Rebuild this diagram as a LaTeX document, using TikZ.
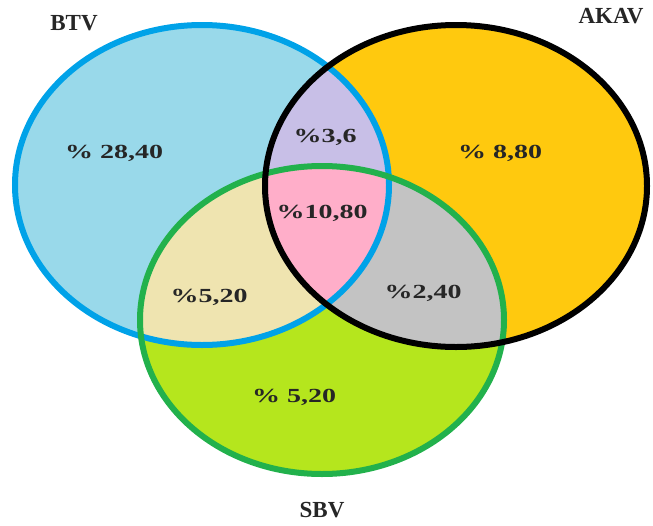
\documentclass[tikz,border=0pt]{standalone}
\usepackage{fontspec}
\setmainfont{Liberation Serif}
\usepackage{tikz}
\definecolor{btvfill}{HTML}{99D9EA}
\definecolor{btvline}{HTML}{00A2E8}
\definecolor{akavfill}{HTML}{FFC90E}
\definecolor{sbvfill}{HTML}{B5E61D}
\definecolor{sbvline}{HTML}{22B14C}
\definecolor{ba}{HTML}{C8BFE7}
\definecolor{bs}{HTML}{EFE4B0}
\definecolor{as}{HTML}{C3C3C3}
\definecolor{bas}{HTML}{FFAEC9}
\newcommand\btvshape{(202,185) ellipse [x radius=187pt, y radius=160pt]}
\newcommand\akavshape{(456,186) ellipse [x radius=191pt, y radius=161pt]}
\newcommand\sbvshape{(322,320) ellipse [x radius=182pt, y radius=154pt]}

\begin{document}
\begin{tikzpicture}[
  x=1pt, y=-1pt,
  pct/.style={font=\bfseries\fontsize{20}{23}\selectfont, text=black!85, xscale=1.4, inner sep=0pt},
  lbl/.style={font=\bfseries\fontsize{23}{26}\selectfont, text=black!85, inner sep=0pt},
  ring/.style={line width=6pt}
]
\useasboundingbox (0,0) rectangle (653,525);
% sets
\fill[btvfill] \btvshape;
\fill[akavfill] \akavshape;
\fill[sbvfill] \sbvshape;
% overlaps
\begin{scope} \clip \btvshape; \fill[ba] \akavshape; \end{scope}
\begin{scope} \clip \btvshape; \fill[bs] \sbvshape; \end{scope}
\begin{scope} \clip \akavshape; \fill[as] \sbvshape; \end{scope}
\begin{scope} \clip \btvshape; \clip \akavshape; \fill[bas] \sbvshape; \end{scope}
% outlines
\draw[ring, btvline] \btvshape;
\draw[ring, sbvline] \sbvshape;
\draw[ring, black] \akavshape;
% names
\node[lbl] (btv) at (74,23) {BTV};
\node[lbl] (akav) at (611,16) {AKAV};
\node[lbl] (sbv) at (322,510) {SBV};
% values
\node[pct] (onlyb) at (114,153) {\% 28,40};
\node[pct] (onlya) at (500,153) {\% 8,80};
\node[pct] (onlys) at (294,397) {\% 5,20};
\node[pct] (ba) at (325,137) {\%3,6};
\node[pct] (bas) at (322,213) {\%10,80};
\node[pct] (bs) at (209,297) {\%5,20};
\node[pct] (as) at (423,293) {\%2,40};
\end{tikzpicture}
\end{document}
